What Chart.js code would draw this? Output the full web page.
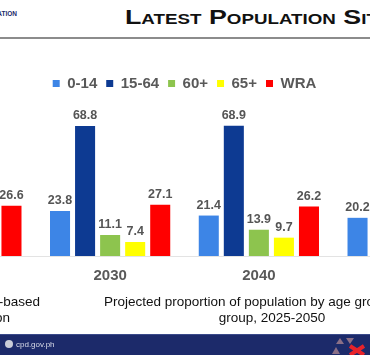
<!DOCTYPE html>
<html>
<head>
<meta charset="utf-8">
<script src="https://cdn.jsdelivr.net/npm/chart.js@4.4.1/dist/chart.umd.min.js"></script>
<style>
  html, body { margin: 0; padding: 0; width: 370px; height: 355px; overflow: hidden; background: #ffffff; position: relative; font-family: "Liberation Sans", Arial, sans-serif; }
  #chartBox { position: absolute; left: -113px; top: 67px; width: 595px; height: 233px; }
  #title { position: absolute; left: 125px; top: 6px; font-weight: bold; font-variant: small-caps; font-size: 20px; color: #111; white-space: nowrap; transform: scaleX(1.34); transform-origin: left top; }
  #rule { position: absolute; left: 0; top: 37px; width: 370px; height: 2px; background: #8c8c8c; }
  #org { position: absolute; right: 353px; top: 10px; font-size: 6.5px; font-weight: bold; color: #1b2a6b; white-space: nowrap; }
  .cap { position: absolute; font-size: 13.5px; color: #111; white-space: nowrap; }
  #capL1 { right: 330px; top: 294px; }
  #capL2 { right: 360px; top: 310px; }
  #capR { position: absolute; left: 62px; width: 420px; top: 294px; font-size: 13.5px; color: #111; text-align: center; line-height: 16px; white-space: nowrap; }
  #footer { position: absolute; left: 0; top: 334px; width: 370px; height: 21px; background: #1c2a6a; border-top: 1px solid #3a4a8a; }
  #site { position: absolute; left: 16px; top: 5px; font-size: 8px; color: #d8dbe8; }
  #globe { position: absolute; left: 5px; top: 5px; width: 8px; height: 8px; border-radius: 50%; background: #c9ccd8; }
  #logo { position: absolute; left: 330px; top: 332px; }
</style>
</head>
<body>
<div id="org">POPULATION</div>
<div id="title">Latest Population Situation</div>
<div id="rule"></div>
<div id="chartBox"><canvas id="c" width="595" height="233"></canvas></div>
<div class="cap" id="capL1">rights-based</div>
<div class="cap" id="capL2">population</div>
<div id="capR">Projected proportion of population by age group and sex<br>group, 2025-2050</div>
<div id="footer"><div id="globe"></div><div id="site">cpd.gov.ph</div></div>
<svg id="logo" width="40" height="23" viewBox="0 0 40 23">
  <polygon points="6,12 14,12 10,6" fill="#8a6f86"/>
  <polygon points="16,6 24,6 20,12" fill="#8a6f86"/>
  <polygon points="2,22 10,22 6,15" fill="#8a6f86"/>
  <path d="M20 14 L34 23 M34 14 L20 23" stroke="#e8232a" stroke-width="4"/>
</svg>
<script>
const years = ["2025", "2030", "2040", "2050"];
const seriesNames = ["0-14", "15-64", "60+", "65+", "WRA"];
const age0_14  = [26.3, 23.8, 21.4, 20.2];
const age15_64 = [67.9, 68.8, 68.9, 67.7];
const age60p   = [9.1, 11.1, 13.9, 17.6];
const age65p   = [5.8, 7.4, 9.7, 12.1];
const wra      = [26.6, 27.1, 26.2, 24.9];
const colors   = ["#3d85e6", "#0d3a92", "#8dc44e", "#ffff00", "#ff0000"];

const valueLabels = {
  id: "valueLabels",
  afterDatasetsDraw(chart) {
    const ctx = chart.ctx;
    ctx.save();
    ctx.font = "bold 12.5px 'Liberation Sans', Arial, sans-serif";
    ctx.fillStyle = "#555555";
    ctx.textAlign = "center";
    ctx.textBaseline = "bottom";
    chart.data.datasets.forEach((ds, i) => {
      const meta = chart.getDatasetMeta(i);
      meta.data.forEach((bar, j) => {
        ctx.fillText(ds.data[j].toFixed(1), bar.x, bar.y - 4);
      });
    });
    ctx.restore();
  }
};

const allSeries = [age0_14, age15_64, age60p, age65p, wra];
new Chart(document.getElementById("c"), {
  type: "bar",
  data: {
    labels: years,
    datasets: allSeries.map((d, i) => ({
      label: seriesNames[i],
      data: d,
      backgroundColor: colors[i],
      borderWidth: 0,
      categoryPercentage: 0.842,
      barPercentage: 0.8
    }))
  },
  options: {
    responsive: false,
    animation: false,
    devicePixelRatio: 1,
    layout: { padding: { left: 0, right: 0, top: 0, bottom: 4 } },
    plugins: {
      legend: {
        position: "top",
        labels: {
          boxWidth: 7,
          boxHeight: 7,
          padding: 9,
          color: "#595959",
          font: { family: "'Liberation Sans', Arial, sans-serif", size: 15, weight: "bold" }
        }
      },
      tooltip: { enabled: false }
    },
    scales: {
      x: {
        grid: { display: false, drawTicks: false },
        border: { display: true, color: "#e3e3e3", width: 1 },
        ticks: {
          padding: 11,
          color: "#595959",
          font: { family: "'Liberation Sans', Arial, sans-serif", size: 15, weight: "bold" }
        }
      },
      y: { display: false, min: 0, max: 82 }
    }
  },
  plugins: [valueLabels]
});
</script>
</body>
</html>
